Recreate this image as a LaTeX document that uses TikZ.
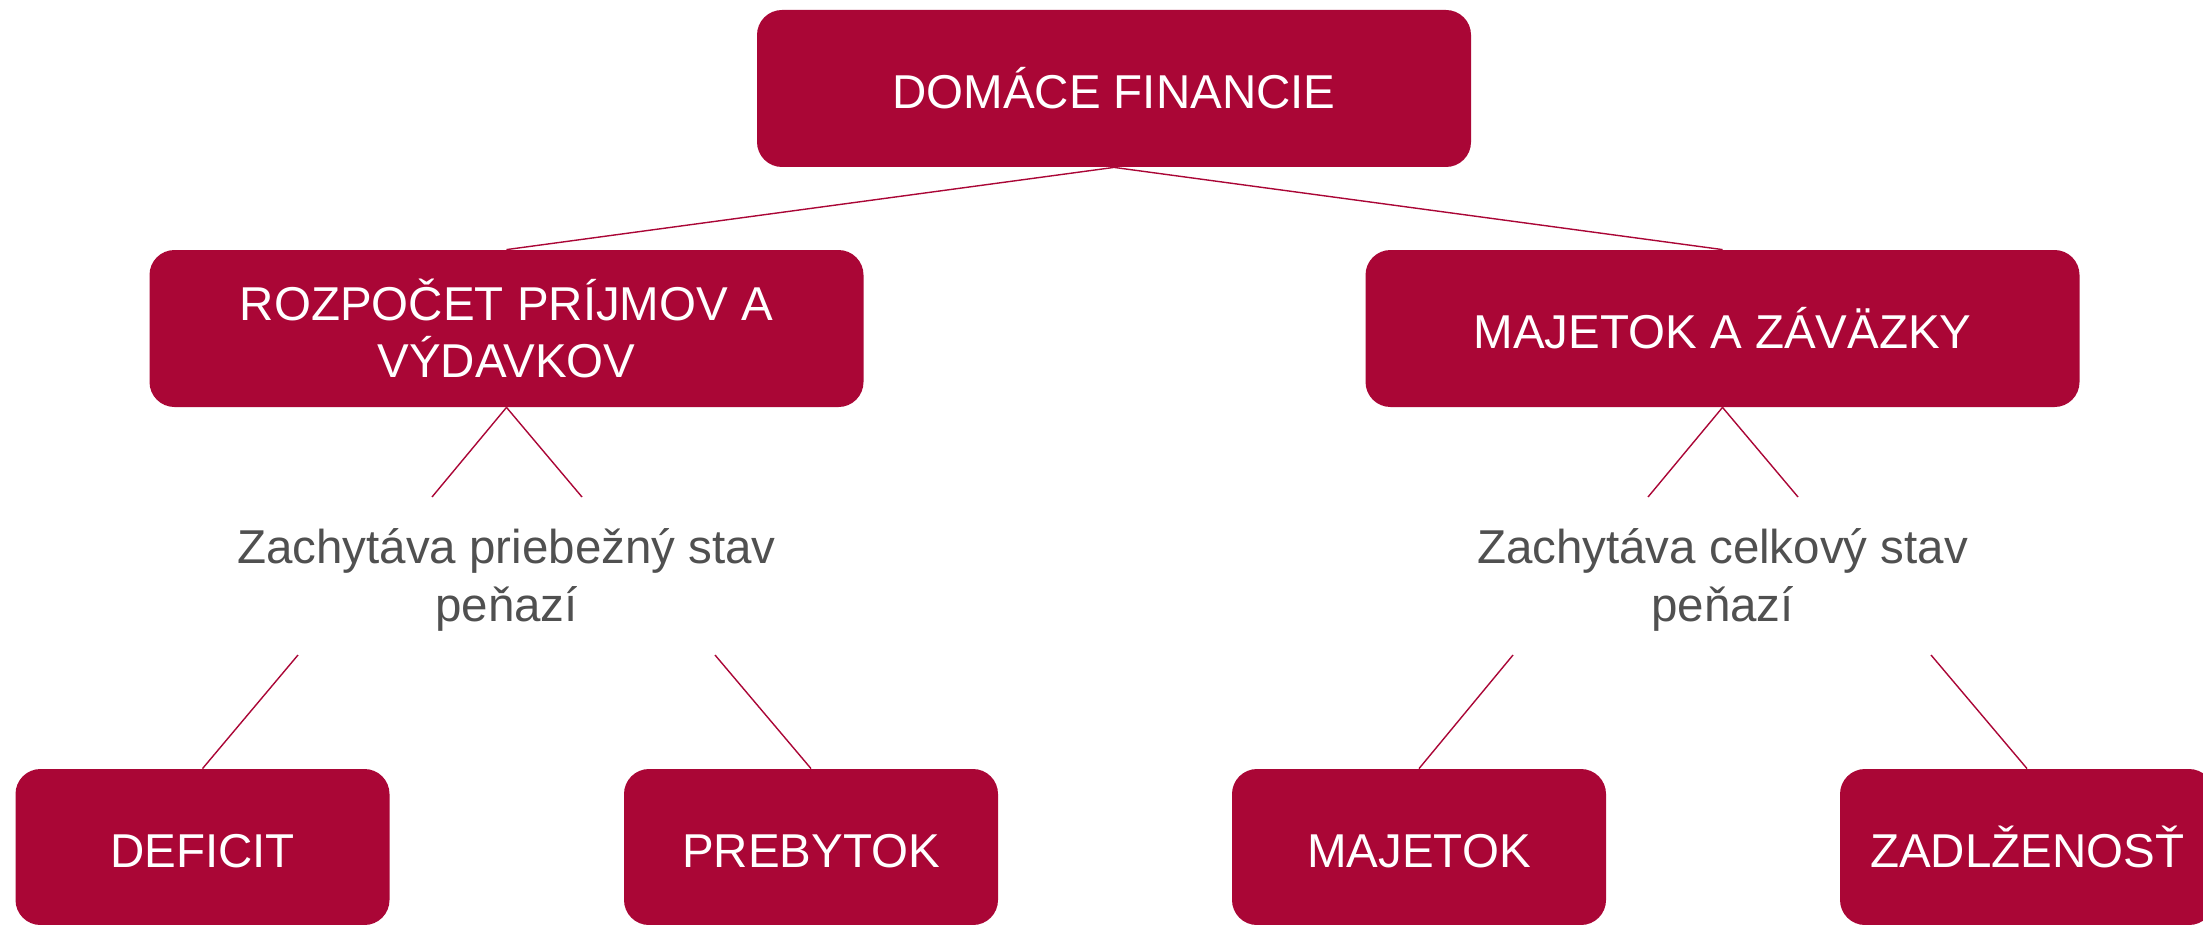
\documentclass[tikz,border=0pt]{standalone}
\usepackage{fontspec}
\setmainfont{Liberation Sans}
\definecolor{wine}{RGB}{170,6,54}
\definecolor{greytext}{RGB}{80,80,80}
\begin{document}
\begin{tikzpicture}[x=0.5pt,y=-0.5pt,
  box/.style={fill=wine, rounded corners=12.5pt, text=white, align=center, inner sep=0pt,
    font=\fontsize{23.75pt}{28.75pt}\selectfont},
  oneline/.style={text height=20.2pt, text depth=0pt},
  bigbox/.style={box, minimum width=357pt, minimum height=78.5pt},
  smallbox/.style={box, oneline, minimum width=187pt, minimum height=78pt},
  note/.style={text=greytext, align=center, inner sep=0pt,
    font=\fontsize{23.75pt}{29pt}\selectfont},
  link/.style={draw=wine, line width=0.7pt}]
\useasboundingbox (0,0) rectangle (2203,925);
% boxes
\node[bigbox, oneline] (top) at (1114,88.5) {DOMÁCE FINANCIE};
\node[bigbox] (roz) at (506.5,328.5) {ROZPOČET PRÍJMOV A\\VÝDAVKOV};
\node[bigbox, oneline] (maj) at (1722.5,328.5) {MAJETOK A ZÁVÄZKY};
\node[smallbox] (def) at (202.5,847) {DEFICIT};
\node[smallbox] (pre) at (811,847) {PREBYTOK};
\node[smallbox] (mjt) at (1419,847) {MAJETOK};
\node[smallbox] (zad) at (2027,847) {ZADLŽENOSŤ};
% notes
\node[note] (nl) at (506.5,580) {Zachytáva priebežný stav\\peňazí};
\node[note] (nr) at (1722.5,580) {Zachytáva celkový stav\\peňazí};
% free ends
\coordinate (l1) at (432,497);
\coordinate (l2) at (582,497);
\coordinate (l3) at (298,655);
\coordinate (l4) at (715,655);
\coordinate (r1) at (1648,497);
\coordinate (r2) at (1798,497);
\coordinate (r3) at (1513,655);
\coordinate (r4) at (1931,655);
% connectors
\draw[link] (top.south) -- (roz.north);
\draw[link] (top.south) -- (maj.north);
\draw[link] (roz.south) -- (l1);
\draw[link] (roz.south) -- (l2);
\draw[link] (l3) -- (def.north);
\draw[link] (l4) -- (pre.north);
\draw[link] (maj.south) -- (r1);
\draw[link] (maj.south) -- (r2);
\draw[link] (r3) -- (mjt.north);
\draw[link] (r4) -- (zad.north);
\end{tikzpicture}
\end{document}
